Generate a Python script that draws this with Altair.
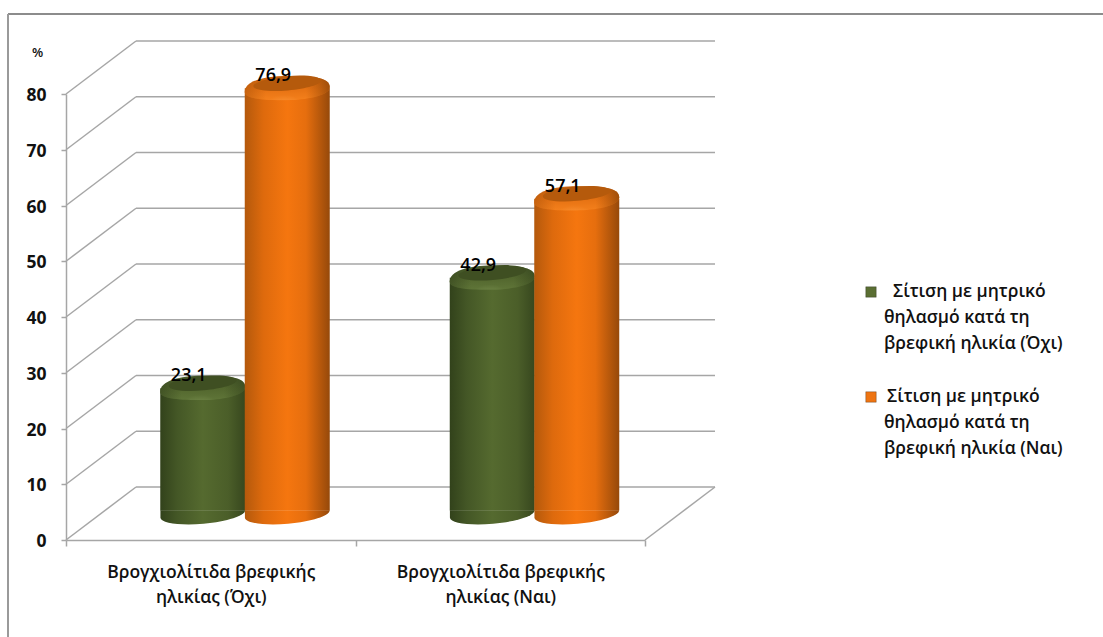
import math

import altair as alt
import pandas as pd

# Chart values
categories = ["Βρογχιολίτιδα βρεφικής\nηλικίας (Όχι)", "Βρογχιολίτιδα βρεφικής\nηλικίας (Ναι)"]
no_feeding = [23.1, 42.9]
yes_feeding = [76.9, 57.1]
y_ticks = [0, 10, 20, 30, 40, 50, 60, 70, 80]

legend_no = ["Σίτιση με μητρικό", "θηλασμό κατά τη", "βρεφική ηλικία (Όχι)"]
legend_yes = ["Σίτιση με μητρικό", "θηλασμό κατά τη", "βρεφική ηλικία (Ναι)"]

FONT = "Open Sans"
GRID = "#a6a6a6"
DEPTH_X, DEPTH_Y = 70, 53   # full wall depth of the 3D box
LIFT = -26                  # columns stand halfway into the box
COL_W = 85

# Custom symbol outlines, in units of half the symbol width
RIM_SHAPE = ("M-1,0.16C-1,-0.1,-0.55,-0.22,0,-0.22C0.55,-0.22,1,-0.2,1,0.04"
             "C1,0.25,0.4,0.35,0,0.35C-0.5,0.35,-1,0.33,-1,0.16Z")


def hgrad(stops):
    return alt.Gradient(
        gradient="linear", x1=0, x2=1, y1=0, y2=0,
        stops=[alt.GradientStop(offset=o, color=c) for o, c in stops],
    )


def vgrad(stops):
    return alt.Gradient(
        gradient="linear", x1=0, x2=0, y1=0, y2=1,
        stops=[alt.GradientStop(offset=o, color=c) for o, c in stops],
    )


def ellipse(ry, tilt=5):
    # unit-width tilted ellipse
    cx, sx = math.cos(math.radians(tilt)), math.sin(math.radians(tilt))
    return (f"M{-cx:.4f},{sx:.4f}A1,{ry},{-tilt},1,1,{cx:.4f},{-sx:.4f}"
            f"A1,{ry},{-tilt},1,1,{-cx:.4f},{sx:.4f}Z")


def foot(ry, tilt=5):
    # lower half of a tilted ellipse, squared off on the raised side
    cx, sx = math.cos(math.radians(tilt)), math.sin(math.radians(tilt))
    return (f"M{-cx:.4f},{-sx:.4f}L{cx:.4f},{-sx:.4f}"
            f"A1,{ry},{-tilt},0,1,{-cx:.4f},{sx:.4f}Z")


grid_df = pd.DataFrame({"tick": y_ticks})
y_enc = alt.Y(
    "tick:Q",
    scale=alt.Scale(domain=[0, 80], nice=False),
    axis=alt.Axis(
        values=y_ticks, grid=False, title="%", titleAngle=0, titleX=-29, titleY=-35,
        titleFont=FONT, titleFontSize=13, titleFontWeight=600, titleColor="#111111",
        labelFont=FONT, labelFontSize=17.5, labelFontWeight="bold", labelColor="#111111",
        labelPadding=15, labelOffset=1.5, tickSize=5, tickColor=GRID, tickWidth=1.5,
        domainColor=GRID, domainWidth=1.5,
    ),
)

# Side wall diagonals and back wall lines
side_lines = alt.Chart(grid_df).mark_rule(color=GRID, strokeWidth=1.5, y2Offset=-DEPTH_Y).encode(
    x=alt.value(0), x2=alt.value(DEPTH_X), y=y_enc, y2=alt.Y2("tick:Q"),
)
back_lines = alt.Chart(grid_df).mark_rule(color=GRID, strokeWidth=1.5, yOffset=-DEPTH_Y, y2Offset=-DEPTH_Y).encode(
    x=alt.value(DEPTH_X), x2=alt.value(649), y=alt.Y("tick:Q"), y2=alt.Y2("tick:Q"),
)
floor_edge = alt.Chart(pd.DataFrame({"tick": [0]})).mark_rule(color=GRID, strokeWidth=1.5, y2Offset=-DEPTH_Y).encode(
    x=alt.value(579), x2=alt.value(649), y=alt.Y("tick:Q"), y2=alt.Y2("tick:Q"),
)

x_enc = alt.X(
    "cat:N", sort=categories,
    scale=alt.Scale(paddingInner=0, paddingOuter=0),
    axis=alt.Axis(
        title=None, labelAngle=0, tickBand="extent", tickSize=6, tickColor=GRID, tickWidth=1.5,
        domainColor=GRID, domainWidth=1.5, labelLimit=400,
        labelExpr="split(datum.label, '\\n')", labelFont=FONT, labelFontSize=17.5,
        labelFontWeight=600, labelColor="#111111", labelLineHeight=25, labelPadding=17,
    ),
)


def column(values, x_off, body, rim, edge, top, hi):
    df = pd.DataFrame({"cat": categories, "value": values, "base": [0, 0]})
    y = alt.Y("value:Q")
    w = COL_W
    bottom = alt.Chart(df).mark_point(
        filled=True, fill=hgrad(body), opacity=1, strokeWidth=0,
        shape=foot(0.23), size=w * w, xOffset=x_off, yOffset=LIFT,
    ).encode(x=x_enc, y=alt.Y("base:Q"))
    side = alt.Chart(df).mark_bar(
        width=w, fill=hgrad(body), xOffset=x_off, yOffset=LIFT + 3, y2Offset=LIFT - 3.5,
    ).encode(x=x_enc, y=y, y2=alt.Y2("base:Q"))
    rim_el = alt.Chart(df).mark_point(
        filled=True, fill=vgrad(rim), opacity=1, strokeWidth=0,
        shape=RIM_SHAPE, size=w * w, xOffset=x_off, yOffset=LIFT,
    ).encode(x=x_enc, y=y)
    shade = alt.Chart(df).mark_point(
        filled=True, fill=hgrad(edge), opacity=1, strokeWidth=0,
        shape=RIM_SHAPE, size=w * w, xOffset=x_off, yOffset=LIFT,
    ).encode(x=x_enc, y=y)
    glow = alt.Chart(df).mark_point(
        filled=True, opacity=1, strokeWidth=0,
        fill=alt.Gradient(
            gradient="radial", x1=0.47, y1=0.9, x2=0.47, y2=0.9, r1=0, r2=0.32,
            stops=[alt.GradientStop(offset=0, color=hi),
                   alt.GradientStop(offset=1, color=hi + "00")],
        ),
        shape=RIM_SHAPE, size=w * w, xOffset=x_off, yOffset=LIFT,
    ).encode(x=x_enc, y=y)
    inner = alt.Chart(df).mark_point(
        filled=True, fill=top, opacity=1, strokeWidth=0,
        shape=ellipse(0.21), size=68 * 68, xOffset=x_off, yOffset=LIFT - 2,
    ).encode(x=x_enc, y=y)
    label = alt.Chart(df).transform_calculate(
        txt="replace(format(datum.value, '.1f'), '.', ',')"
    ).mark_text(
        font=FONT, fontSize=18, fontWeight=600, color="#000000",
        xOffset=x_off - 14, yOffset=LIFT - 9,
    ).encode(x=x_enc, y=y, text="txt:N")
    return [bottom, side, rim_el, shade, glow, inner], label


green_parts, green_label = column(
    no_feeding, -8,
    [(0, "#32421b"), (0.2, "#445726"), (0.5, "#556a2f"), (0.8, "#4b5e29"), (1, "#37471e")],
    [(0, "#46582a"), (0.55, "#54682f"), (1, "#5f7538")],
    [(0, "#2f3e1a88"), (0.25, "#2f3e1a00"), (0.75, "#2f3e1a00"), (1, "#2f3e1a88")],
    "#3f4f22", "#93a866",
)
orange_parts, orange_label = column(
    yes_feeding, 76.5,
    [(0, "#b4590c"), (0.22, "#de6a0d"), (0.5, "#f5760f"), (0.72, "#e66e0e"), (1, "#96490a")],
    [(0, "#c8620e"), (0.6, "#e87414"), (1, "#f4801c")],
    [(0, "#a8520a88"), (0.25, "#a8520a00"), (0.72, "#a8520a00"), (1, "#8f4608cc")],
    "#b55a0c", "#ffb060",
)

# Outer frame: top and left edges only
frame_top = alt.Chart(pd.DataFrame({"k": [0]})).mark_rule(color="#8c8c8c", strokeWidth=2).encode(
    x=alt.value(-58), x2=alt.value(1037), y=alt.value(-80),
)
frame_left = alt.Chart(pd.DataFrame({"k": [0]})).mark_rule(color="#9a9a9a", strokeWidth=2).encode(
    x=alt.value(-58), y=alt.value(-80), y2=alt.value(543),
)


# Hand-set legend block
def legend(lines, first_x, y_top, swatch):
    rows = []
    for row, line in enumerate(lines):
        rows.append(
            alt.Chart(pd.DataFrame({"t": [line]})).mark_text(
                font=FONT, fontSize=17.5, fontWeight=600, align="left", baseline="middle", color="#111111",
            ).encode(
                x=alt.value(first_x if row == 0 else 818),
                y=alt.value(y_top + row * 26),
                text="t:N",
            )
        )
    sq = alt.Chart(pd.DataFrame({"k": [0]})).mark_square(
        size=110, color=swatch, opacity=1, stroke="#00000040", strokeWidth=1,
    ).encode(x=alt.value(805), y=alt.value(y_top))
    return [sq] + rows


chart = alt.layer(
    side_lines, back_lines, floor_edge, frame_top, frame_left,
    *green_parts, *orange_parts, green_label, orange_label,
    *legend(legend_no, 827, 198, "#5a6e33"),
    *legend(legend_yes, 821, 303, "#ee7412"),
).properties(
    width=579, height=446,
    padding={"left": 66, "top": 94, "right": 458, "bottom": 97},
    autosize=alt.AutoSizeParams(type="none"),
    background="white",
).configure_view(stroke=None)

chart.save("out.html", embed_options={"renderer": "svg", "actions": False})
